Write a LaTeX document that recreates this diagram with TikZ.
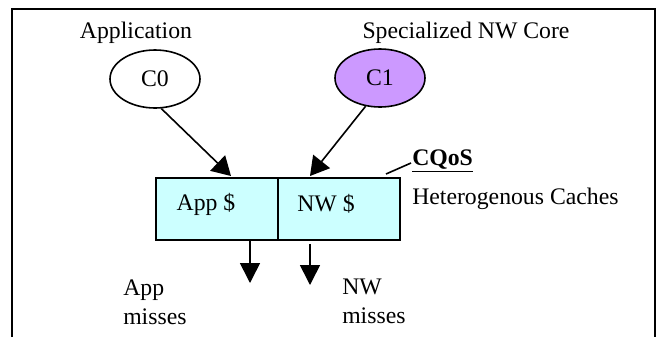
\documentclass[tikz,border=0pt]{standalone}
\usepackage{fontspec}
\setmainfont{Liberation Serif}
\usetikzlibrary{shapes.geometric,arrows.meta}
\definecolor{cachefill}{HTML}{CCFFFF}
\definecolor{corefill}{HTML}{CC99FF}
\begin{document}
\begin{tikzpicture}[x=0.75pt,y=-0.75pt,
  every node/.style={font=\fontsize{17.8}{21.7}\selectfont, inner sep=0pt},
  core/.style={draw, line width=1.2pt, ellipse, minimum width=67.5pt, minimum height=43.5pt},
  cachebox/.style={draw, line width=1.2pt, fill=cachefill, minimum width=91.5pt, minimum height=46.5pt},
  diagarrow/.style={line width=1.2pt, -{Triangle[length=14pt,width=16pt]}},
  downarrow/.style={line width=1.2pt, -{Triangle[length=15pt,width=15pt]}},
  label/.style={anchor=center},
  frame/.style={line width=1.5pt}]
\useasboundingbox (0,0) rectangle (657,337);
\draw[frame] (12,337) -- (12,8.5) -- (654.5,8.5) -- (654.5,337);

\node[label] (appl) at (136,33) {Application};
\node[label] (spec) at (466,33) {Specialized NW Core};
\node[core] (c0) at (155,79) {C0};
\node[core, fill=corefill] (c1) at (380,78) {C1};

\node[cachebox] (app) at (217,209) {};
\node[cachebox] (nw) at (339,209) {};
\node (apptxt) at (206,204) {App \$};
\node (nwtxt) at (326,204) {NW \$};

\coordinate (appin) at (231,176);
\coordinate (nwin) at (310,176);
\draw[diagarrow] (c0.-78) -- (appin);
\draw[diagarrow] (c1.-117) -- (nwin);

\coordinate (amiss) at (250,283);
\coordinate (nmiss) at (310,285);
\draw[downarrow] (app.south -| amiss) -- (amiss);
\draw[downarrow] (nw.south -| nmiss) ++(0,3) -- (nmiss);

\node[anchor=west, align=left] (amtxt) at (123,302) {App\\misses};
\node[anchor=west, align=left] (nmtxt) at (342,301) {NW\\misses};

\node[anchor=west] (het) at (412,199) {Heterogenous Caches};
\node[anchor=west, font=\fontsize{17.8}{21.7}\selectfont\bfseries] (cqos) at (412,161) {\underline{CQoS}};
\coordinate (cqleft) at (386,174);
\coordinate (cqright) at (411,163);
\draw[line width=1.2pt] (cqleft) -- (cqright);
\end{tikzpicture}
\end{document}
